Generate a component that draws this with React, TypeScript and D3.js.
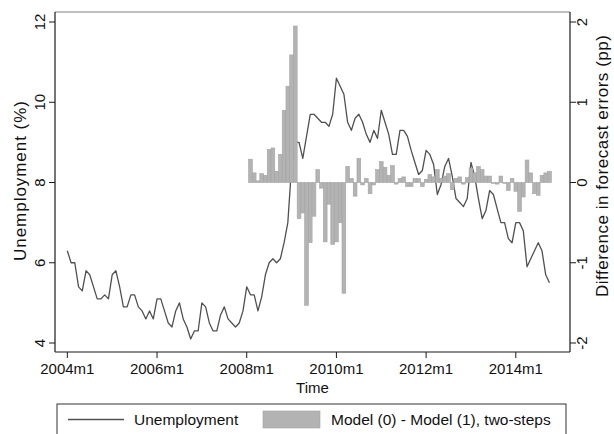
import React from "react";
import * as d3 from "d3";

// Monthly unemployment rate (%), 2004m1 .. 2014m10
const unemployment: number[] = [
  6.3, 6.0, 6.0, 5.4, 5.3, 5.8, 5.7, 5.4, 5.1, 5.1, 5.2, 5.1,
  5.7, 5.8, 5.4, 4.9, 4.9, 5.2, 5.2, 4.9, 4.8, 4.6, 4.8, 4.6,
  5.1, 5.1, 4.8, 4.5, 4.4, 4.8, 5.0, 4.6, 4.4, 4.1, 4.3, 4.3,
  5.0, 4.9, 4.5, 4.3, 4.3, 4.7, 4.9, 4.6, 4.5, 4.4, 4.5, 4.8,
  5.4, 5.2, 5.2, 4.8, 5.15, 5.7, 6.0, 6.1, 6.0, 6.1, 6.5, 7.0,
  8.4, 9.0, 9.0, 8.6, 9.15, 9.7, 9.7, 9.6, 9.5, 9.5, 9.4, 9.7,
  10.6, 10.4, 10.2, 9.5, 9.3, 9.6, 9.7, 9.5, 9.2, 9.0, 9.3, 9.1,
  9.8, 9.5, 9.2, 8.7, 8.7, 9.3, 9.3, 9.15, 8.8, 8.5, 8.2, 8.3,
  8.8, 8.7, 8.45, 7.7, 7.95, 8.4, 8.6, 8.15, 7.6, 7.5, 7.4, 7.6,
  8.5, 8.15, 7.6, 7.1, 7.3, 7.8, 7.7, 7.35, 7.0, 7.0, 6.6, 6.5,
  7.0, 7.0, 6.8, 5.9, 6.1, 6.3, 6.5, 6.3, 5.7, 5.5,
];

// Difference in two-step forecast errors (pp), 2008m2 .. 2014m10
const diffStart = 49; // month index of the first difference (2008m2)
const forecastDiff: number[] = [
  0.29, 0.12, 0.02, 0.11, 0.09, 0.41, 0.43, 0.14, 0.35, 0.9, 1.2, 1.59, 1.95,
  -0.45, -0.38, -1.53, -0.75, -0.42, 0.16, -0.07, -0.74, -0.27, -0.77, -0.74, -0.5, -1.38,
  0.2, 0.05, -0.17, 0.3, -0.03, 0.05, -0.14, -0.03, 0.16, 0.26, 0.19, 0.09, 0.21,
  -0.02, 0.05, 0.07, -0.05, -0.05, 0.05, 0.05, -0.05, 0.04, 0.1, 0.07, 0.16, 0.05,
  0.08, 0.11, -0.09, 0.05, 0.07, -0.02, 0.06, 0.18, 0.12, 0.2, 0.16, 0.08, 0.08,
  -0.01, -0.02, 0.08, -0.01, -0.1, 0.05, -0.11, -0.36, -0.18, 0.28, 0.12, -0.14, -0.16,
  0.09, 0.12, 0.14,
];

const xTickMonths: number[] = [0, 24, 48, 72, 96, 120];
const xTickLabels: string[] = ["2004m1", "2006m1", "2008m1", "2010m1", "2012m1", "2014m1"];
const leftTicks: number[] = [4, 6, 8, 10, 12];
const rightTicks: number[] = [-2, -1, 0, 1, 2];

const W = 614;
const H = 434;
const plot = { left: 55, right: 570, top: 12, bottom: 352 };
const FONT = "'Liberation Sans', Arial, Helvetica, sans-serif";
const FS = 15;
const TITLE_FS = 17;
const LEGEND_FS = 15.5;

export default function App() {
  const x = d3.scaleLinear().domain([-3.3, 134.5]).range([plot.left, plot.right]);
  const yL = d3.scaleLinear().domain([4, 12]).range([343, 22]);
  const yR = d3.scaleLinear().domain([-2, 2]).range([343, 22]);
  const bw = x(1) - x(0);

  const line = d3
    .line<number>()
    .x((_, i) => x(i))
    .y((d) => yL(d));

  const axisColor = "#1a1a1a";

  return (
    <div style={{ position: "fixed", left: 0, top: 0 }}>
      <svg width={W} height={H} style={{ display: "block", background: "#fff" }} fontFamily={FONT}>
        <rect x={0} y={0} width={W} height={H} fill="#fff" />
        {/* unemployment line (drawn beneath the bars) */}
        <path d={line(unemployment) ?? ""} fill="none" stroke="#505050" strokeWidth={1.3} strokeLinejoin="round" />
        {/* forecast error differences */}
        {forecastDiff.map((v, k) => {
          const cx = x(diffStart + k);
          const y0 = yR(0);
          const y1 = yR(v);
          return (
            <rect
              key={k}
              x={cx - bw / 2}
              y={Math.min(y0, y1)}
              width={bw}
              height={Math.max(Math.abs(y1 - y0), 0.6)}
              fill="#b3b3b3"
              stroke="#a3a3a3"
              strokeWidth={0.6}
            />
          );
        })}
        {/* plot frame */}
        <line x1={plot.left} x2={plot.right} y1={plot.top} y2={plot.top} stroke="#808080" strokeWidth={1.2} />
        <line x1={plot.left} x2={plot.left} y1={plot.top} y2={plot.bottom} stroke={axisColor} strokeWidth={1.2} />
        <line x1={plot.right} x2={plot.right} y1={plot.top} y2={plot.bottom} stroke={axisColor} strokeWidth={1.2} />
        <line x1={plot.left} x2={plot.right} y1={plot.bottom} y2={plot.bottom} stroke={axisColor} strokeWidth={1.2} />
        {/* left axis */}
        {leftTicks.map((t) => (
          <g key={"l" + t}>
            <line x1={plot.left - 6} x2={plot.left} y1={yL(t)} y2={yL(t)} stroke={axisColor} strokeWidth={1} />
            <text
              transform={`translate(45,${yL(t)}) rotate(-90)`}
              textAnchor="middle"
              fontSize={FS}
              fill="#111"
            >
              {t}
            </text>
          </g>
        ))}
        {/* right axis */}
        {rightTicks.map((t) => (
          <g key={"r" + t}>
            <line x1={plot.right} x2={plot.right + 6} y1={yR(t)} y2={yR(t)} stroke={axisColor} strokeWidth={1} />
            <text
              transform={`translate(587,${yR(t)}) rotate(-90)`}
              textAnchor="middle"
              fontSize={FS}
              fill="#111"
            >
              {t}
            </text>
          </g>
        ))}
        {/* bottom axis */}
        {xTickMonths.map((m, i) => (
          <g key={"x" + m}>
            <line x1={x(m)} x2={x(m)} y1={plot.bottom} y2={plot.bottom + 6} stroke={axisColor} strokeWidth={1} />
            <text x={x(m)} y={374} textAnchor="middle" fontSize={FS} fill="#111">
              {xTickLabels[i]}
            </text>
          </g>
        ))}
        {/* axis titles */}
        <text x={(plot.left + plot.right) / 2} y={393} textAnchor="middle" fontSize={FS} fill="#111">
          Time
        </text>
        <text
          transform={`translate(26,181) rotate(-90)`}
          textAnchor="middle"
          fontSize={TITLE_FS}
          textLength={160}
          lengthAdjust="spacing"
          fill="#111"
        >
          Unemployment (%)
        </text>
        <text
          transform={`translate(608,166) rotate(-90)`}
          textAnchor="middle"
          fontSize={TITLE_FS}
          textLength={262}
          lengthAdjust="spacing"
          fill="#111"
        >
          Difference in forecast errors (pp)
        </text>
        {/* legend */}
        <rect x={57} y={404} width={509} height={44} fill="#fff" stroke="#333" strokeWidth={1} />
        <line x1={68} x2={124} y1={419.5} y2={419.5} stroke="#505050" strokeWidth={1.3} />
        <text x={134} y={425} fontSize={LEGEND_FS} fill="#111">
          Unemployment
        </text>
        <rect x={263} y={411} width={57} height={17} fill="#b3b3b3" stroke="#a3a3a3" strokeWidth={0.6} />
        <text x={331} y={425} fontSize={LEGEND_FS} fill="#111">
          Model (0) - Model (1), two-steps
        </text>
      </svg>
    </div>
  );
}
